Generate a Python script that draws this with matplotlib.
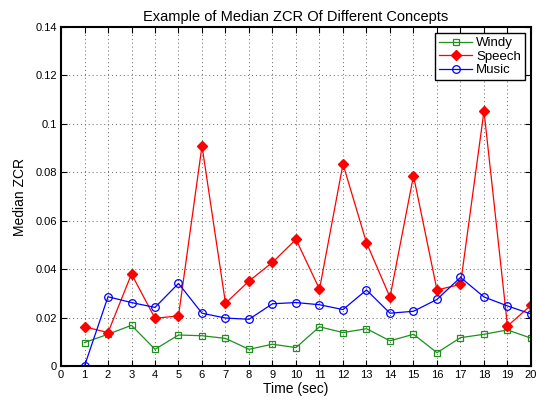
import matplotlib
matplotlib.use("Agg")
import matplotlib.pyplot as plt
import numpy as np

time_sec = list(range(1, 21))
windy = [0.0097, 0.0131, 0.0168, 0.0069, 0.0128, 0.0125, 0.0114, 0.0069, 0.0090, 0.0076,
         0.0162, 0.0138, 0.0154, 0.0104, 0.0131, 0.0055, 0.0117, 0.0131, 0.0149, 0.0115]
speech = [0.0162, 0.0138, 0.0380, 0.0197, 0.0207, 0.0909, 0.0259, 0.0351, 0.0428, 0.0523,
          0.0317, 0.0834, 0.0509, 0.0284, 0.0786, 0.0314, 0.0337, 0.1053, 0.0165, 0.0251]
music = [0.0, 0.0286, 0.0262, 0.0242, 0.0341, 0.0218, 0.0198, 0.0193, 0.0257, 0.0262,
         0.0253, 0.0233, 0.0314, 0.0218, 0.0226, 0.0275, 0.0366, 0.0285, 0.0248, 0.0215]
x_ticks = list(range(0, 21))
y_ticks = [0, 0.02, 0.04, 0.06, 0.08, 0.1, 0.12, 0.14]
y_tick_labels = ["0", "0.02", "0.04", "0.06", "0.08", "0.1", "0.12", "0.14"]

plt.rcParams['font.family'] = ['Liberation Sans', 'DejaVu Sans']

fig = plt.figure(figsize=(5.37, 4.0), dpi=100)
ax = fig.add_axes([0.1136, 0.085, 0.8752, 0.8475])

ax.plot(time_sec, windy, color='#1f8f1f', marker='s', markersize=4.5, markerfacecolor='none',
        markeredgecolor='#1f8f1f', markeredgewidth=0.9, linewidth=0.9, label='Windy')
ax.plot(time_sec, speech, color='red', marker='D', markersize=5, markerfacecolor='red',
        markeredgecolor='red', linewidth=0.9, label='Speech')
ax.plot(time_sec, music, color='blue', marker='o', markersize=5.5, markerfacecolor='none',
        markeredgecolor='blue', markeredgewidth=0.9, linewidth=0.9, label='Music')

ax.set_xlim(0, 20)
ax.set_ylim(0, 0.14)
ax.set_xticks(x_ticks)
ax.set_yticks(y_ticks)
ax.set_yticklabels(y_tick_labels)
ax.tick_params(direction='in', top=True, right=True, labelsize=8, length=4, width=0.8, pad=3)
ax.grid(True, linestyle=(0, (1, 3)), color='#666666', linewidth=0.7)
for s in ax.spines.values():
    s.set_linewidth(1.5)
    s.set_color('black')

ax.set_xlabel('Time (sec)', fontsize=10, labelpad=1)
ax.set_ylabel('Median ZCR', fontsize=10, labelpad=6)
ax.set_title('Example of Median ZCR Of Different Concepts', fontsize=10.5, pad=4)

leg = ax.legend(loc='upper right', fontsize=9.5, fancybox=False, framealpha=1,
                edgecolor='black', borderaxespad=0.45, handlelength=2.5,
                borderpad=0.3, labelspacing=0.1, handletextpad=0.3)
leg.get_frame().set_linewidth(1.0)

fig.savefig('out.png', dpi=100)
